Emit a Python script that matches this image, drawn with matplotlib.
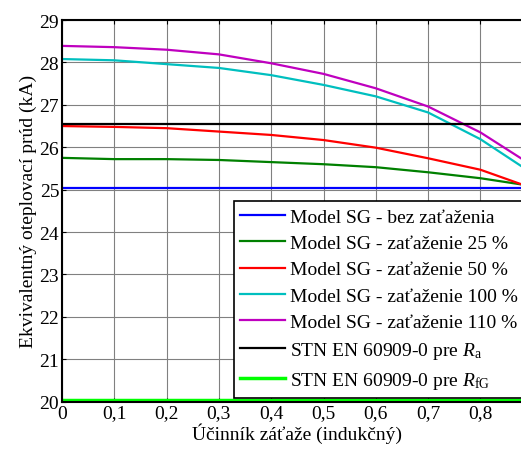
import numpy as np
import matplotlib
matplotlib.use('Agg')
import matplotlib.pyplot as plt

plt.rcParams['font.family'] = ['Liberation Serif', 'DejaVu Serif']
plt.rcParams['mathtext.fontset'] = 'custom'
plt.rcParams['mathtext.rm'] = 'Liberation Serif'
plt.rcParams['mathtext.it'] = 'Liberation Serif:italic'

# Ucinnik zataze (indukcny)
cos_phi = [0, 0.1, 0.2, 0.3, 0.4, 0.5, 0.6, 0.7, 0.8, 0.88]

# Ekvivalentny oteplovaci prud (kA)
I_25 = [25.75, 25.72, 25.72, 25.70, 25.65, 25.60, 25.53, 25.41, 25.27, 25.12]
I_50 = [26.50, 26.48, 26.45, 26.37, 26.29, 26.17, 25.99, 25.74, 25.47, 25.12]
I_100 = [28.08, 28.05, 27.96, 27.87, 27.70, 27.47, 27.20, 26.82, 26.19, 25.54]
I_110 = [28.39, 28.36, 28.30, 28.19, 27.98, 27.73, 27.39, 26.96, 26.35, 25.72]
I_0 = 25.03
I_Ra = 26.55
I_RfG = 20.03

x_lim = [0, 0.9]
fs = 14

fig = plt.figure(figsize=(5.21, 4.52), dpi=100)
ax = fig.add_axes([0.119, 0.109, 0.9035, 0.8445])

ax.plot(x_lim, [I_0, I_0], color='#0000ff', lw=1.6, label='Model SG - bez zaťaženia')
ax.plot(cos_phi, I_25, color='#008000', lw=1.6, label='Model SG - zaťaženie 25 %')
ax.plot(cos_phi, I_50, color='#ff0000', lw=1.6, label='Model SG - zaťaženie 50 %')
ax.plot(cos_phi, I_100, color='#00bfbf', lw=1.6, label='Model SG - zaťaženie 100 %')
ax.plot(cos_phi, I_110, color='#bf00bf', lw=1.6, label='Model SG - zaťaženie 110 %')
ax.plot(x_lim, [I_Ra, I_Ra], color='k', lw=1.6, label=r'STN EN 60909-0 pre $R_\mathrm{a}$')
ax.plot(x_lim, [I_RfG, I_RfG], color='#00ff00', lw=2.5, label=r'STN EN 60909-0 pre $R_\mathrm{fG}$')

ax.set_xlim(x_lim)
ax.set_ylim(20, 29)
ax.set_xticks(np.arange(0, 0.85, 0.1))
ax.set_xticklabels(['0', '0,1', '0,2', '0,3', '0,4', '0,5', '0,6', '0,7', '0,8'])
ax.set_yticks(range(20, 30))
ax.tick_params(direction='in', length=3, labelsize=fs, top=True, right=True, pad=2)
ax.grid(True, color='#808080', lw=0.8)
for s in ax.spines.values():
    s.set_linewidth(1.5)

ax.set_xlabel('Účinník záťaže (indukčný)', fontsize=fs, labelpad=1)
ax.set_ylabel('Ekvivalentný oteplovací prúd (kA)', fontsize=fs, labelpad=2)

leg = ax.legend(loc='lower left', bbox_to_anchor=(233.5/521, (452-398.5)/452),
                bbox_transform=fig.transFigure, fontsize=fs, fancybox=False,
                edgecolor='k', framealpha=1, handlelength=2.3, handletextpad=0.25,
                labelspacing=0.45, borderpad=0.35, borderaxespad=0)
leg.get_frame().set_linewidth(1.2)

plt.savefig('out.png', dpi=100)
